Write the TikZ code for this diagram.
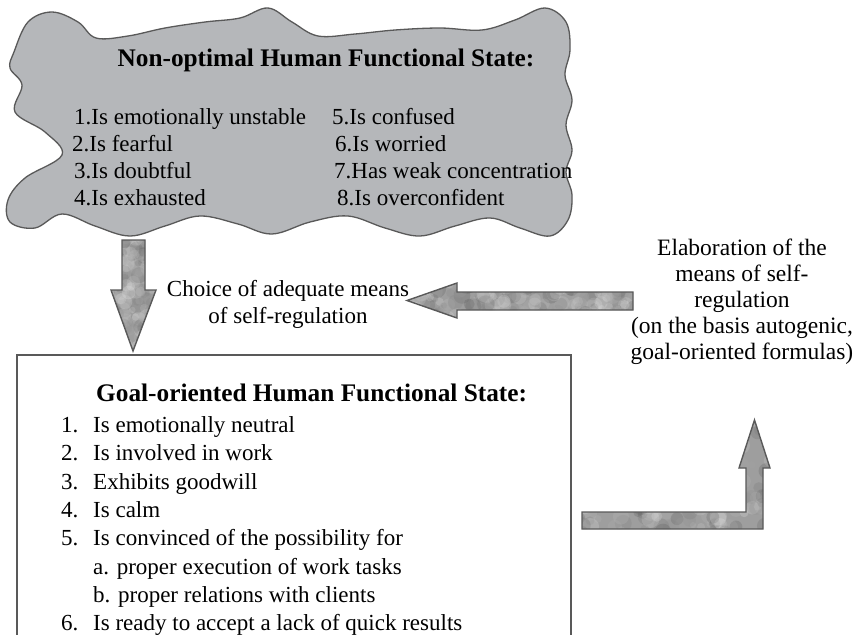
\documentclass[tikz,border=0pt]{standalone}
\usepackage{fontspec}
\setmainfont{Liberation Serif}
\tikzset{
  cloudshape/.style={fill=cloudgray, draw=black!65, line width=1.3pt},
  arrowedge/.style={draw=black!65, line width=1.4pt},
  boxframe/.style={draw=black!65, line width=1.6pt},
  bodytext/.style={inner sep=0pt, font=\fontsize{23}{27}\selectfont},
  sidetext/.style={inner sep=0pt, font=\fontsize{23.5}{26}\selectfont, align=center},
  titletext/.style={inner sep=0pt, font=\fontsize{25.3}{30}\selectfont\bfseries},
  line/.style={bodytext, anchor=base west},
}
\definecolor{cloudgray}{HTML}{B5B7BA}
\newcommand\mottledarrow[5]{% path, xmin, xmax, ymin, ymax
  \begin{scope}
    \clip #1;
    \fill[black!38] (#2,#4) rectangle (#3,#5);
    \foreach \k in {1,...,260}{
      \pgfmathsetmacro\rx{#2+rnd*(#3-#2)}
      \pgfmathsetmacro\ry{#4+rnd*(#5-#4)}
      \pgfmathsetmacro\rr{3+rnd*6}
      \pgfmathtruncatemacro\gg{5+rnd*65}
      \fill[black!\gg, opacity=0.22] (\rx,\ry) circle (\rr);
    }
  \end{scope}
  \draw[arrowedge] #1;
}
\begin{document}
\begin{tikzpicture}[x=1pt,y=-1pt]
\pgfmathsetseed{11}
\useasboundingbox (0,0) rectangle (855,635);
\clip (0,0) rectangle (855,635);

% cloud
\draw[cloudshape] plot[smooth cycle, tension=0.6] coordinates {
 (14,52) (28,22) (52,12) (78,22) (96,38) (128,36) (165,28) (205,22) (240,18)
 (268,8) (292,22) (318,36) (355,34) (395,30) (440,28) (482,30) (515,20) (545,8)
 (566,22) (570,50) (565,75) (572,100) (566,125) (572,150) (566,172) (572,195)
 (568,220) (550,236) (520,228) (490,218) (455,226) (420,236) (385,228) (348,216)
 (310,222) (272,234) (238,224) (200,216) (165,226) (130,236) (95,226) (62,214)
 (35,228) (10,222) (8,200) (25,178) (62,155) (45,132) (15,112) (22,85) (10,68)};

\node[titletext, anchor=base] (ctitle) at (326,66) {Non-optimal Human Functional State:};
\node[line] (c1) at (74,124) {1.Is emotionally unstable};
\node[line] (c2) at (72,151) {2.Is fearful};
\node[line] (c3) at (74,178) {3.Is doubtful};
\node[line] (c4) at (74,205) {4.Is exhausted};
\node[line] (c5) at (332,124) {5.Is confused};
\node[line] (c6) at (335,151) {6.Is worried};
\node[line] (c7) at (334,178) {7.Has weak concentration};
\node[line] (c8) at (337,205) {8.Is overconfident};

% goal box
\draw[boxframe] (17,355) rectangle (571,660);
\node[titletext, anchor=base west] (gtitle) at (96,401.5) {Goal-oriented Human Functional State:};
\node[line] (n1) at (61,432.5) {1.};
\node[line] (n2) at (61,460.8) {2.};
\node[line] (n3) at (61,489.1) {3.};
\node[line] (n4) at (61,517.4) {4.};
\node[line] (n5) at (61,545.7) {5.};
\node[line] (n6) at (61,630.6) {6.};
\node[line] (g1) at (93,432.5) {Is emotionally neutral};
\node[line] (g2) at (93,460.8) {Is involved in work};
\node[line] (g3) at (93,489.1) {Exhibits goodwill};
\node[line] (g4) at (93,517.4) {Is calm};
\node[line] (g5) at (93,545.7) {Is convinced of the possibility for};
\node[line] (g5a) at (93,574.0) {a. proper execution of work tasks};
\node[line] (g5b) at (93,602.3) {b. proper relations with clients};
\node[line] (g6) at (93,630.6) {Is ready to accept a lack of quick results};

% side texts
\node[bodytext, align=center] (choice) at (288,304) {Choice of adequate means\\of self-regulation};
\node[sidetext] (elab) at (742,302) {Elaboration of the\\means of self-\\regulation\\(on the basis autogenic,\\goal-oriented formulas)};

% block arrows
\mottledarrow{(122,240) -- (145,240) -- (145,290) -- (156,290) -- (133,351) -- (111,290) -- (122,290) -- cycle}{105}{165}{235}{355}
\mottledarrow{(633,292) -- (633,310) -- (457,310) -- (457,318) -- (407,300.5) -- (457,283) -- (457,292) -- cycle}{400}{640}{278}{322}
\mottledarrow{(582,512) -- (746,512) -- (746,468) -- (739,468) -- (754.5,420) -- (770,468) -- (763,468) -- (763,529) -- (582,529) -- cycle}{575}{775}{415}{535}
\end{tikzpicture}
\end{document}
